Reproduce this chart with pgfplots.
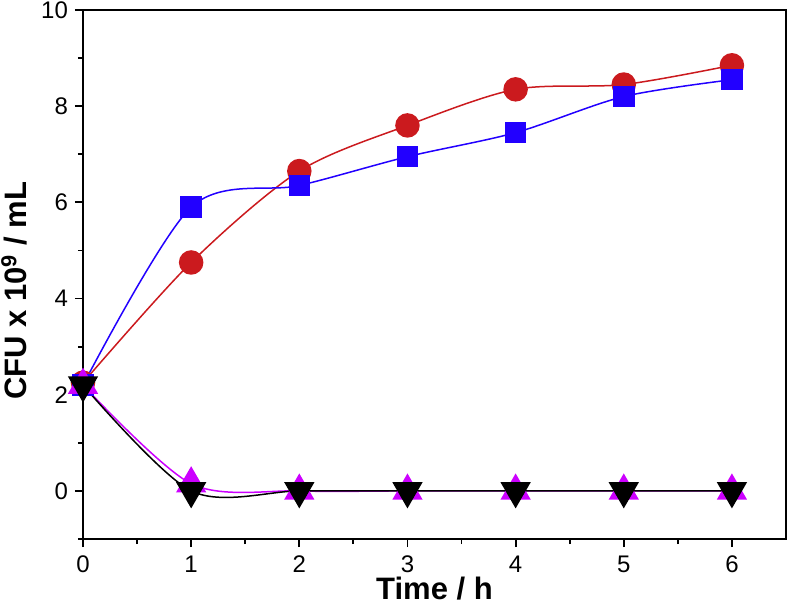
\documentclass[border=0pt]{standalone}
\usepackage{pgfplots}
\pgfplotsset{compat=1.18}
\usepackage{fontspec}
\setmainfont{Liberation Sans}
\definecolor{cred}{RGB}{203,26,30}
\definecolor{cblue}{RGB}{34,0,255}
\definecolor{cmag}{RGB}{204,0,255}
\begin{document}
\begin{tikzpicture}
\begin{axis}[
  scale only axis,
  width=351.5pt, height=264.5pt,
  xmin=0, xmax=6.5, ymin=-1, ymax=10,
  xtick={0,1,2,3,4,5,6},
  ytick={0,2,4,6,8,10},
  minor xtick={0.5,1.5,2.5,3.5,4.5,5.5},
  minor ytick={-1,1,3,5,7,9},
  tick pos=left,
  tick align=outside,
  major tick length=4pt,
  minor tick length=2.5pt,
  axis line style={line width=1pt},
  every tick/.style={line width=0.9pt, black},
  /pgf/number format/assume math mode=true,
  tick label style={font=\fontsize{12}{14}\selectfont},
  xticklabel style={yshift=-1pt},
  xlabel={\bfseries Time / h},
  ylabel={\bfseries CFU x 10\textsuperscript{9} / mL},
  label style={font=\fontsize{15.5}{17}\selectfont\bfseries},
  xlabel style={yshift=5pt},
  ylabel style={at={(ticklabel cs:0.469)}, yshift=0pt},
  clip=false,
]
\coordinate (sw) at (rel axis cs:0,0);
\coordinate (ne) at (rel axis cs:1,1);
\addplot[cred, line width=0.75pt, smooth, mark=*, mark size=5.75pt, mark options={draw=none, fill=cred}]
  coordinates {(0,2.25) (1,4.75) (2,6.65) (3,7.6) (4,8.35) (5,8.45) (6,8.85)};
\addplot[cblue, line width=0.75pt, smooth, mark=square*, mark size=5pt, mark options={draw=none, fill=cblue}]
  coordinates {(0,2.2) (1,5.9) (2,6.35) (3,6.95) (4,7.45) (5,8.2) (6,8.55)};
\addplot[cmag, line width=0.75pt, smooth, mark=triangle*, mark size=8pt, mark options={draw=none, fill=cmag}]
  coordinates {(0,2.2) (1,0.15) (2,0) (3,0) (4,0) (5,0) (6,0)};
\addplot[black, line width=0.75pt, smooth, mark=triangle*, mark size=8pt, mark options={draw=none, fill=black, rotate=180}]
  coordinates {(0,2.2) (1,0) (2,0) (3,0) (4,0) (5,0) (6,0)};
\end{axis}
\pgfresetboundingbox
\path ([shift={(-41.5pt,-34.5pt)}]sw) rectangle ([shift={(0.5pt,5pt)}]ne);
\end{tikzpicture}
\end{document}
